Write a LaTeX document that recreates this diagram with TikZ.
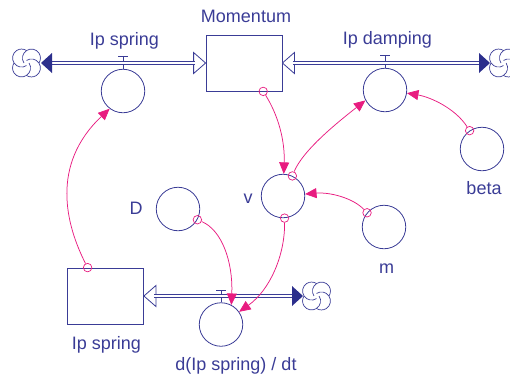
\documentclass[tikz,border=0pt]{standalone}
\usepackage{fontspec}
\setmainfont{Liberation Sans}
\usetikzlibrary{arrows.meta,calc}

\definecolor{sfblue}{RGB}{58,60,150}
\definecolor{sfhead}{RGB}{44,47,140}
\definecolor{sflink}{RGB}{232,28,128}

\tikzset{
  every node/.style={font=\fontsize{18}{21}\selectfont, text=sfblue},
  stockbox/.style={draw=sfblue, line width=0.8pt, rectangle,
    minimum width=76pt, minimum height=56pt, inner sep=0pt},
  aux/.style={draw=sfblue, line width=0.8pt, circle, minimum size=43.5pt, inner sep=0pt},
  tap/.style={draw=sflink, line width=0.7pt, circle, minimum size=8.5pt, inner sep=0pt},
  lbl/.style={anchor=base, inner sep=0pt},
  pipe/.style={draw=sfblue, line width=0.9pt, double=white, double distance=2.1pt},
  stem/.style={draw=sfblue, line width=0.8pt},
  link/.style={draw=sflink, line width=0.75pt,
    -{Triangle[length=11.5pt,width=10pt,color=sflink]}},
  % hollow flow head, tip at the origin, pointing to +x
  openhead/.pic={\draw[sfblue, line width=0.8pt, fill=white, line join=miter]
    (0,0) -- (-12,-10.5) -- (-12,10.5) -- cycle;},
  % solid flow head, tip at the origin, pointing to +x
  fullhead/.pic={\fill[sfhead] (0,0) -- (-11,-10) -- (-11,10) -- cycle;},
  % source/sink cloud: four pinwheel lobes
  cloud/.pic={
    \coordinate (-c) at (0,0);
    \foreach \p in {45,135,225,315}
      \draw[sfblue, line width=0.7pt] ({\p}:7) ++({\p+191.6}:9)
        arc[start angle=\p+191.6, end angle=\p+438.4, radius=9];
  },
}

\begin{document}
\begin{tikzpicture}[x=1pt,y=-1pt]
\useasboundingbox (0,0) rectangle (510,378);

% stocks
\node[stockbox] (mom) at (244,63) {};
\node[stockbox] (ips) at (105.5,296) {};

% converters and valves
\node[aux] (vs)   at (123,91)    {};
\node[aux] (vd)   at (385,90)    {};
\node[aux] (vdt)  at (221,324.5) {};
\node[aux] (beta) at (482,149)   {};
\node[aux] (v)    at (283,196)   {};
\node[aux] (m)    at (384,227)   {};
\node[aux] (D)    at (178,209)   {};

% clouds
\pic (cl) at (26.5,63)  {cloud};
\pic (cr) at (503.5,63) {cloud};
\pic (cb) at (316.5,296) {cloud};

% valve stems with their T caps
\draw[stem] (vs.north)  -- ++(0,-12) ++(-5,0) -- ++(10,0);
\draw[stem] (vd.north)  -- ++(0,-12) ++(-5,0) -- ++(10,0);
\draw[stem] (vdt.north) -- ++(0,-12) ++(-5,0) -- ++(10,0);

% hollow heads into the stocks
\pic at (mom.west) {openhead};
\pic[rotate=180] at (mom.east) {openhead};
\pic[rotate=180] at (ips.east) {openhead};

% flow pipes
\draw[pipe] ($(cl-c)+(25.5,0)$) -- ($(mom.west)+(-10.5,0)$);
\draw[pipe] ($(mom.east)+(10.5,0)$) -- ($(cr-c)+(-25,0)$);
\draw[pipe] ($(ips.east)+(10.5,0)$) -- ($(cb-c)+(-24.5,0)$);

% solid heads toward the clouds
\pic[rotate=180] at ($(cl-c)+(14.5,0)$) {fullhead};
\pic at ($(cr-c)+(-13.5,0)$) {fullhead};
\pic at ($(cb-c)+(-13.5,0)$) {fullhead};

% connector taps
\node[tap] (t1) at ($(ips.north west)!0.267!(ips.north east)$) {};
\node[tap] (t2) at ($(mom.south west)!0.75!(mom.south east)$) {};
\node[tap] (t3) at (v.65)    {};
\node[tap] (t4) at (beta.124) {};
\node[tap] (t5) at (m.140)   {};
\node[tap] (t6) at (v.274)   {};
\node[tap] (t7) at (D.331)   {};

% connectors
\draw[link] (t1) .. controls (66,225) and (50,165) .. (vs.233);
\draw[link] (t2) .. controls (278,115) and (285,140) .. (v.88);
\draw[link] (t3) .. controls (303,150) and (338,122) .. (vd.208);
\draw[link] (t4) .. controls (455,108) and (430,97) .. (vd.352);
\draw[link] (t5) .. controls (353,198) and (330,192) .. (v.5);
\draw[link] (t6) .. controls (285,255) and (270,290) .. (vdt.35);
\draw[link] (t7) .. controls (222,230) and (233,262) .. (vdt.62);

% labels
\node[lbl] (lmom)  at (246,22)    {Momentum};
\node[lbl] (lvs)   at (124.5,45)  {Ip spring};
\node[lbl] (lvd)   at (387.5,44.5){Ip damping};
\node[lbl] (lv)    at (248,203)   {v};
\node[lbl] (lD)    at (136,214)   {D};
\node[lbl] (lbeta) at (484,194)   {beta};
\node[lbl] (lm)    at (386.5,273) {m};
\node[lbl] (lips)  at (106.5,349) {Ip spring};
\node[lbl] (lvdt)  at (236,370)   {d(Ip spring) / dt};
\end{tikzpicture}
\end{document}
